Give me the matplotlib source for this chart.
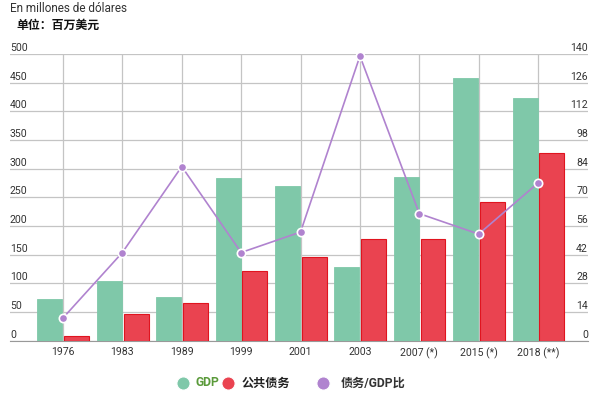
import matplotlib
matplotlib.use("Agg")
import matplotlib.pyplot as plt
from matplotlib.lines import Line2D
import numpy as np

FONTS = ["Roboto", "Noto Sans CJK SC", "DejaVu Sans"]
plt.rcParams["font.family"] = FONTS

GREEN = "#7fc8a9"
RED = "#ea4350"
RED_EDGE = "#e0141f"
PURPLE = "#b083cf"
GRID_COL = "#c4c4c4"
TEXT_COL = "#333333"

years = ["1976", "1983", "1989", "1999", "2001", "2003", "2007 (*)", "2015 (*)", "2018 (**)"]
gdp = [72, 104, 76, 284, 270, 129, 285, 458, 423]
debt = [8, 46, 65, 122, 145, 178, 177, 241, 328]
ratio = [11, 43, 85, 43, 53, 139, 62, 52, 77]

left_ticks = [0, 50, 100, 150, 200, 250, 300, 350, 400, 450, 500]
right_ticks = [0, 14, 28, 42, 56, 70, 84, 98, 112, 126, 140]

W, H = 600, 397
fig = plt.figure(figsize=(W / 100, H / 100), dpi=100)
ax = fig.add_axes([10 / W, (H - 340.5) / H, 578 / W, 286.5 / H])
ax2 = ax.twinx()

x = np.arange(len(years))
bw = 0.42
ax.bar(x - bw / 2 - 0.01, gdp, width=bw, color=GREEN, edgecolor=GREEN, linewidth=0.6, zorder=3)
ax.bar(x + bw / 2 + 0.02, debt, width=bw, color=RED, edgecolor=RED_EDGE, linewidth=0.8, zorder=3)

ax.set_xlim(-0.892, 8.84)
ax.set_ylim(0, 500)
ax2.set_ylim(0, 140)

# grid: horizontal at left ticks, vertical at category centres
ax.set_yticks(left_ticks)
ax.yaxis.grid(True, color=GRID_COL, linewidth=0.9, zorder=0)
ax.set_xticks(x)
ax.xaxis.grid(True, color=GRID_COL, linewidth=0.9, zorder=0)
ax.set_axisbelow(True)
ax.tick_params(length=0, labelleft=False, labelbottom=False)
ax2.set_yticks(right_ticks)
ax2.tick_params(length=0, labelright=False)

for s in ["top", "left", "right"]:
    ax.spines[s].set_visible(False)
    ax2.spines[s].set_visible(False)
ax.spines["bottom"].set_color("#999999")
ax2.spines["bottom"].set_visible(False)

# tick labels sit just above the grid lines, inside the plot
for v in left_ticks:
    ax.text(0.0, v + 1.5, str(v), transform=ax.get_yaxis_transform(), ha="left", va="bottom",
            fontsize=7.6, color=TEXT_COL)
for v in right_ticks:
    ax2.text(1.0, v + 0.4, str(v), transform=ax2.get_yaxis_transform(),
             ha="right", va="bottom", fontsize=7.6, color=TEXT_COL)
for i, lab in enumerate(years):
    ax.text(i, -12, lab, ha="center", va="top", fontsize=7.6, color=TEXT_COL)

ax2.plot(x, ratio, color=PURPLE, linewidth=1.2, marker="o", markersize=6,
         markerfacecolor=PURPLE, markeredgecolor="white", markeredgewidth=1.2, zorder=5,
         clip_on=False)

# titles
fig.text(10 / W, 1 - 9 / H, "En millones de dólares", fontsize=8.5, color=TEXT_COL, va="center")
fig.text(16 / W, 1 - 25 / H, "单位：百万美元", fontsize=8.6, color="#111111",
         fontweight="bold", va="center")

# legend, placed by hand
ly = 1 - 383 / H
items = [(183, 195, GREEN, "GDP", "#5a9a3a"),
         (228, 242, RED, "公共债务", "#222222"),
         (323, 341, PURPLE, "债务/GDP比", "#333333")]
for cx, tx, col, lab, tcol in items:
    fig.add_artist(Line2D([cx / W], [ly], marker="o", markersize=9.5, color=col,
                          markeredgecolor="white", markeredgewidth=0.8,
                          transform=fig.transFigure))
    fig.text(tx / W, ly, lab, fontsize=8.7, fontweight="bold", color=tcol, va="center")

fig.savefig("out.png", dpi=100)
